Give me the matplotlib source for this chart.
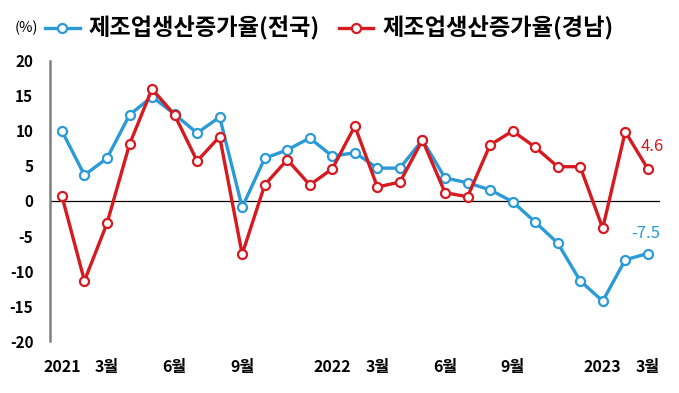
import matplotlib.pyplot as plt

# ---------- data ----------
x_idx = list(range(27))
tick_pos = [0, 2, 5, 8, 12, 14, 17, 20, 24, 26]
tick_labels = ["2021", "3월", "6월", "9월", "2022", "3월", "6월", "9월", "2023", "3월"]

national = [10.0, 3.7, 6.1, 12.3, 14.9, 12.4, 9.7, 12.0, -0.9, 6.1, 7.3, 9.0, 6.4,
            6.9, 4.7, 4.7, 8.7, 3.3, 2.6, 1.6, -0.1, -3.0, -6.0, -11.4, -14.3, -8.4, -7.5]
gyeongnam = [0.7, -11.4, -3.2, 8.1, 16.0, 12.3, 5.7, 9.2, -7.6, 2.3, 5.9, 2.3, 4.6,
             10.7, 2.0, 2.7, 8.7, 1.2, 0.6, 8.0, 10.0, 7.7, 4.9, 4.9, -3.9, 9.9, 4.6]

name_nat = "제조업생산증가율(전국)"
name_gn = "제조업생산증가율(경남)"

BLUE = "#2a9ad8"
RED = "#d71920"

plt.rcParams["font.family"] = ["Noto Sans CJK KR", "DejaVu Sans"]
plt.rcParams["axes.unicode_minus"] = False

fig = plt.figure(figsize=(6.79, 3.93), dpi=100)
ax = fig.add_axes([0.0736, 0.1323, 0.898, 0.7125])

line_kw = dict(linewidth=2.4, marker="o", markersize=6.5,
               markerfacecolor="white", markeredgewidth=1.6)
l1, = ax.plot(x_idx, national, color=BLUE, label=name_nat, **line_kw)
l2, = ax.plot(x_idx, gyeongnam, color=RED, label=name_gn, **line_kw)

ax.axhline(0, color="black", linewidth=0.9, zorder=1)

ax.set_xlim(-0.53, 26.53)
ax.set_ylim(-20, 20)
ax.set_yticks(range(-20, 21, 5))
ax.set_xticks(tick_pos)
ax.set_xticklabels(tick_labels)

for s in ["top", "right", "bottom"]:
    ax.spines[s].set_visible(False)
ax.spines["left"].set_color("#808080")
ax.spines["left"].set_linewidth(1.8)

ax.tick_params(axis="y", length=0, pad=12, labelsize=11)
ax.tick_params(axis="x", length=0, pad=13, labelsize=11.5)
for lab in ax.get_xticklabels() + ax.get_yticklabels():
    lab.set_fontweight("bold")

# end labels
ax.text(x_idx[-1] + 0.2, gyeongnam[-1] + 3.2, f"{gyeongnam[-1]}", color=RED,
        fontsize=12, ha="center", va="center")
ax.text(x_idx[-1] - 0.1, national[-1] + 2.9, f"{national[-1]}", color=BLUE,
        fontsize=12, ha="center", va="center")

# legend + unit
fig.text(0.022, 0.93, "(%)", fontsize=10.5, va="center")
fig.legend(handles=[l1, l2], loc="center left", bbox_to_anchor=(0.066, 0.927),
           ncol=2, frameon=False, prop={"size": 16.7, "weight": "bold"},
           handlelength=1.5, handletextpad=0.4, columnspacing=0.8,
           borderaxespad=0, borderpad=0)

fig.savefig("out.png", dpi=100)
